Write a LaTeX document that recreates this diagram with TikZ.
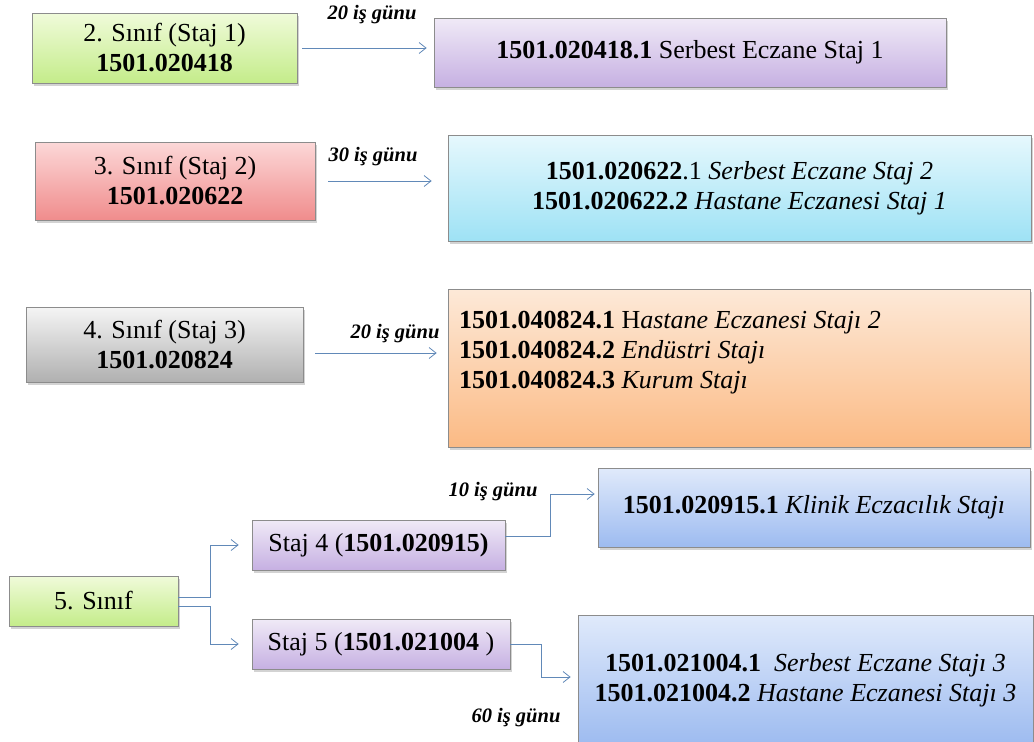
\documentclass[tikz,border=0pt]{standalone}
\usepackage{fontspec}
\setmainfont{Liberation Serif}
\usetikzlibrary{arrows.meta,shadows,calc}
\definecolor{GrT}{HTML}{F0FBDA}
\definecolor{GrB}{HTML}{C4EC8A}
\definecolor{PuT}{HTML}{F0EAF7}
\definecolor{PuB}{HTML}{C6B0E2}
\definecolor{ReT}{HTML}{FCD8D8}
\definecolor{ReB}{HTML}{F08C8C}
\definecolor{CyT}{HTML}{E6F8FD}
\definecolor{CyB}{HTML}{9EE2F5}
\definecolor{GyT}{HTML}{F5F5F5}
\definecolor{GyB}{HTML}{B0B0B0}
\definecolor{OrT}{HTML}{FDE9D8}
\definecolor{OrB}{HTML}{FBBA84}
\definecolor{BlT}{HTML}{E0EAFB}
\definecolor{BlB}{HTML}{9DBBF0}
\definecolor{ArrC}{HTML}{6189B8}
\begin{document}
\begin{tikzpicture}[x=1pt,y=-1pt,
  box/.style={draw=black!45, line width=0.7pt, inner sep=0pt, align=center,
    font=\fontsize{26}{30}\selectfont,
    drop shadow={shadow xshift=1.5pt,shadow yshift=-2.5pt,opacity=0.35}},
  fgreen/.style={top color=GrT, bottom color=GrB},
  fpurple/.style={top color=PuT, bottom color=PuB},
  fred/.style={top color=ReT, bottom color=ReB},
  fcyan/.style={top color=CyT, bottom color=CyB},
  fgrey/.style={top color=GyT, bottom color=GyB},
  forange/.style={top color=OrT, bottom color=OrB},
  fblue/.style={top color=BlT, bottom color=BlB},
  arr/.style={draw=ArrC, line width=0.8pt, -{Straight Barb[length=7pt,width=11pt,line width=0.8pt]}},
  lbl/.style={font=\fontsize{20.5}{24}\selectfont\bfseries\itshape, inner sep=0pt}
]
\useasboundingbox (0,0) rectangle (1034,742);

% row 1
\node[box,fgreen,minimum width=265,minimum height=70] (b1) at (164.5,48)
  {2. Sınıf (Staj 1)\\ \textbf{1501.020418}};
\node[box,fpurple,minimum width=512,minimum height=69] (b2) at (690,52.5)
  {\textbf{1501.020418.1} Serbest Eczane Staj 1};
\draw[arr] ([xshift=5pt]b1.east) -- ([xshift=-7pt]b1.east -| b2.west);
\node[lbl] (l1) at (372,15) {20 iş günu};

% row 2
\node[box,fred,minimum width=280,minimum height=78] (b3) at (175,181)
  {3. Sınıf (Staj 2)\\ \textbf{1501.020622}};
\node[box,fcyan,minimum width=583,minimum height=106] (b4) at (739.5,188)
  {\textbf{1501.020622}.1 \textit{Serbest Eczane Staj 2}\\
   \textbf{1501.020622.2} \textit{Hastane Eczanesi Staj 1}};
\draw[arr] ([xshift=13pt]b3.east) -- ([xshift=-16pt]b3.east -| b4.west);
\node[lbl] (l2) at (373,157) {30 iş günu};

% row 3
\node[box,fgrey,minimum width=277,minimum height=75] (b5) at (164.5,344.5)
  {4. Sınıf (Staj 3)\\ \textbf{1501.020824}};
\node[box,forange,inner xsep=11pt,inner ysep=0pt] (b6) at (739,368)
  {\parbox[c][158pt][t]{560pt}{\raggedright\vspace*{22pt}%
   \textbf{1501.040824.1} H\textit{astane Eczanesi Stajı 2}\\
   \textbf{1501.040824.2} \textit{Endüstri Stajı}\\
   \textbf{1501.040824.3} \textit{Kurum Stajı}}};
\draw[arr] ([xshift=12pt,yshift=-8.5pt]b5.east) -- ([xshift=-11pt,yshift=-8.5pt]b5.east -| b6.west);
\node[lbl] (l3) at (395,334) {20 iş günu};

% row 4
\node[box,fgreen,minimum width=169,minimum height=50] (b7) at (93.5,601) {5. Sınıf};
\node[box,fpurple,minimum width=253,minimum height=50] (b8) at (378.5,545)
  {Staj 4 (\textbf{1501.020915)}};
\node[box,fpurple,minimum width=258,minimum height=50] (b9) at (381,644)
  {Staj 5 (\textbf{1501.021004} )};
\node[box,fblue,minimum width=432,minimum height=79] (b10) at (814,507.5)
  {\textbf{1501.020915.1} \textit{Klinik Eczacılık Stajı}};
\node[box,fblue,minimum width=455,minimum height=130] (b11) at (805.5,680)
  {\textbf{1501.021004.1}\ \ \textit{Serbest Eczane Stajı 3}\\
   \textbf{1501.021004.2} \textit{Hastane Eczanesi Stajı 3}};

\draw[arr] ([yshift=4pt]b7.east) -- ++(32,0) |- ([xshift=-13pt]b8.west);
\draw[arr] ([yshift=-5pt]b7.east) -- ++(32,0) |- ([xshift=-13pt]b9.west);
\draw[arr] ([yshift=9pt]b8.east) -- ++(45,0) |- ([xshift=-3pt,yshift=13.5pt]b10.west);
\draw[arr] (b9.east) -- ++(31,0) |- ([xshift=-7pt,yshift=3pt]b11.west);
\node[lbl] (l4) at (493,492) {10 iş günu};
\node[lbl] (l5) at (516,718) {60 iş günu};
\end{tikzpicture}
\end{document}
